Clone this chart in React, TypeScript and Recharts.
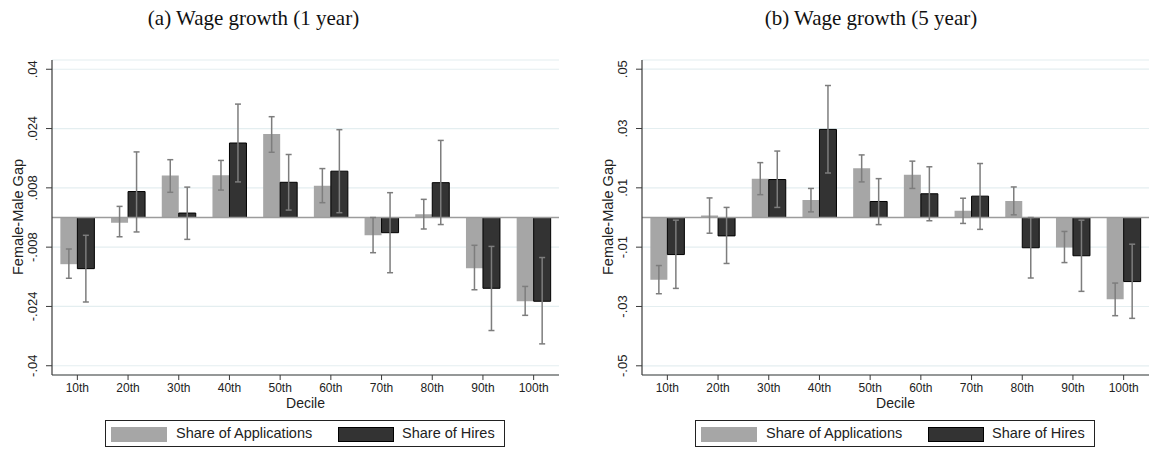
import React from 'react'
import {
  BarChart, Bar, XAxis, YAxis, CartesianGrid, ReferenceLine, ErrorBar,
} from 'recharts'

// deciles on the x axis
const deciles = ['10th', '20th', '30th', '40th', '50th', '60th', '70th', '80th', '90th', '100th']

// (a) 1 year wage growth
const app1   = [-0.0126, -0.0014, 0.0113, 0.0114, 0.0225, 0.0086, -0.0048, 0.0009, -0.0137, -0.0226]
const app1Lo = [-0.0164, -0.0052, 0.0068, 0.0074, 0.0176, 0.0040, -0.0095, -0.0031, -0.0195, -0.0264]
const app1Hi = [-0.0085, 0.0030, 0.0156, 0.0154, 0.0272, 0.0132, 0.0000, 0.0049, -0.0075, -0.0186]
const hire1   = [-0.0138, 0.0070, 0.0012, 0.0201, 0.0095, 0.0125, -0.0041, 0.0094, -0.0191, -0.0226]
const hire1Lo = [-0.0228, -0.0039, -0.0059, 0.0096, 0.0020, 0.0013, -0.0149, -0.0019, -0.0305, -0.0341]
const hire1Hi = [-0.0048, 0.0177, 0.0082, 0.0306, 0.0170, 0.0237, 0.0067, 0.0208, -0.0078, -0.0108]

// (b) 5 year wage growth
const app5   = [-0.0210, 0.0007, 0.0131, 0.0059, 0.0166, 0.0144, 0.0023, 0.0056, -0.0101, -0.0276]
const app5Lo = [-0.0257, -0.0053, 0.0077, 0.0019, 0.0120, 0.0098, -0.0020, 0.0009, -0.0152, -0.0331]
const app5Hi = [-0.0162, 0.0066, 0.0185, 0.0098, 0.0211, 0.0190, 0.0065, 0.0103, -0.0047, -0.0221]
const hire5   = [-0.0125, -0.0062, 0.0128, 0.0297, 0.0054, 0.0080, 0.0072, -0.0102, -0.0129, -0.0216]
const hire5Lo = [-0.0239, -0.0155, 0.0034, 0.0150, -0.0024, -0.0011, -0.0040, -0.0204, -0.0249, -0.0340]
const hire5Hi = [-0.0009, 0.0034, 0.0224, 0.0445, 0.0131, 0.0171, 0.0182, 0.0000, -0.0009, -0.0090]

const yTicks1 = [-0.04, -0.024, -0.008, 0.008, 0.024, 0.04]
const yTicks5 = [-0.05, -0.03, -0.01, 0.01, 0.03, 0.05]

const SANS = '"Liberation Sans", Arial, Helvetica, sans-serif'
const SERIF = '"Liberation Serif", "Times New Roman", serif'

const LIGHT = '#a6a6a6'
const DARK = '#333333'
const AXIS = '#3a3a3a'

function buildRows(app: number[], appLo: number[], appHi: number[],
                   hire: number[], hireLo: number[], hireHi: number[]) {
  return deciles.map((d, i) => ({
    decile: d,
    app: app[i],
    appErr: [app[i] - appLo[i], appHi[i] - app[i]],
    hire: hire[i],
    hireErr: [hire[i] - hireLo[i], hireHi[i] - hire[i]],
  }))
}

// stata style: ".04", "-.024"
const fmt = (v: number) => String(v).replace('0.', '.')

function YTick(props: any) {
  const { x, y, payload } = props
  return (
    <g transform={`translate(${x - 7},${y})`}>
      <text transform="rotate(-90)" textAnchor="middle" fontSize={13} fill="#222" fontFamily={SANS}>
        {fmt(payload.value)}
      </text>
    </g>
  )
}

function XTick(props: any) {
  const { x, y, payload } = props
  return (
    <text x={x} y={y + 10} textAnchor="middle" fontSize={12} fill="#222" fontFamily={SANS}>
      {payload.value}
    </text>
  )
}

interface PanelProps {
  left: number
  titleX: number
  title: string
  rows: ReturnType<typeof buildRows>
  ticks: number[]
  dom: number
}

const PLOT_W = 507
const AXIS_W = 52

function Panel({ left, titleX, title, rows, ticks, dom }: PanelProps) {
  const cx = left + AXIS_W + PLOT_W / 2
  return (
    <>
      <div style={{
        position: 'absolute', left: titleX - 150, width: 300, top: 5, textAlign: 'center',
        fontFamily: SERIF, fontSize: 21, color: '#111', lineHeight: '26px',
      }}>
        {title}
      </div>

      <div style={{ position: 'absolute', left, top: 0 }}>
        <BarChart
          width={AXIS_W + PLOT_W}
          height={452}
          data={rows}
          margin={{ top: 60, right: 0, bottom: 47, left: 0 }}
          barCategoryGap="16.5%"
          barGap={0}
        >
          <CartesianGrid vertical={false} stroke="#e4eef0" strokeWidth={1.2} />
          <XAxis
            dataKey="decile"
            interval={0}
            height={30}
            tick={<XTick />}
            tickSize={5}
            tickLine={{ stroke: AXIS }}
            axisLine={{ stroke: AXIS, strokeWidth: 1.2 }}
          />
          <YAxis
            width={AXIS_W}
            domain={[-dom, dom]}
            ticks={ticks}
            type="number"
            allowDataOverflow
            tick={<YTick />}
            tickSize={6}
            tickLine={{ stroke: AXIS }}
            axisLine={{ stroke: AXIS, strokeWidth: 1.2 }}
          />
          <ReferenceLine y={0} stroke="#9c9c9c" strokeWidth={1.5} />
          <Bar dataKey="app" fill={LIGHT} isAnimationActive={false}>
            <ErrorBar dataKey="appErr" width={3} stroke="#7d7d7d" strokeWidth={1.5} direction="y" isAnimationActive={false} />
          </Bar>
          <Bar dataKey="hire" fill={DARK} stroke="#000" strokeWidth={1} isAnimationActive={false}>
            <ErrorBar dataKey="hireErr" width={3} stroke="#7d7d7d" strokeWidth={1.5} direction="y" isAnimationActive={false} />
          </Bar>
        </BarChart>
      </div>

      {/* y axis title */}
      <div style={{
        position: 'absolute', left: left + 18 - 80, top: 217 - 10, width: 160, height: 20,
        textAlign: 'center', transform: 'rotate(-90deg)', fontFamily: SANS, fontSize: 14.5,
        lineHeight: '20px', color: '#222',
      }}>
        Female-Male Gap
      </div>

      {/* x axis title */}
      <div style={{
        position: 'absolute', left: cx - 50, width: 100, top: 394, textAlign: 'center',
        fontFamily: SANS, fontSize: 14, lineHeight: '18px', color: '#222',
      }}>
        Decile
      </div>

      {/* legend */}
      <div style={{
        position: 'absolute', left: left + 105, top: 420, width: 400, height: 27,
        border: '1px solid #222', boxSizing: 'border-box', background: '#fff',
        fontFamily: SANS, fontSize: 14.5, color: '#222',
      }}>
        <div style={{ position: 'absolute', left: 5, top: 6, width: 56, height: 15, background: LIGHT }} />
        <div style={{ position: 'absolute', left: 70, top: 3, lineHeight: '18px' }}>Share of Applications</div>
        <div style={{
          position: 'absolute', left: 232, top: 6, width: 56, height: 15, background: DARK,
          border: '1px solid #000', boxSizing: 'border-box',
        }} />
        <div style={{ position: 'absolute', left: 296, top: 3, lineHeight: '18px' }}>Share of Hires</div>
      </div>
    </>
  )
}

export default function App() {
  const rows1 = buildRows(app1, app1Lo, app1Hi, hire1, hire1Lo, hire1Hi)
  const rows5 = buildRows(app5, app5Lo, app5Hi, hire5, hire5Lo, hire5Hi)
  return (
    <div style={{ position: 'absolute', left: 0, top: 0, width: 1149, height: 452, background: '#fff', overflow: 'hidden' }}>
      <Panel left={0} titleX={253.5} title="(a) Wage growth (1 year)" rows={rows1} ticks={yTicks1} dom={0.0425} />
      <Panel left={590} titleX={871} title="(b) Wage growth (5 year)" rows={rows5} ticks={yTicks5} dom={0.0531} />
    </div>
  )
}
